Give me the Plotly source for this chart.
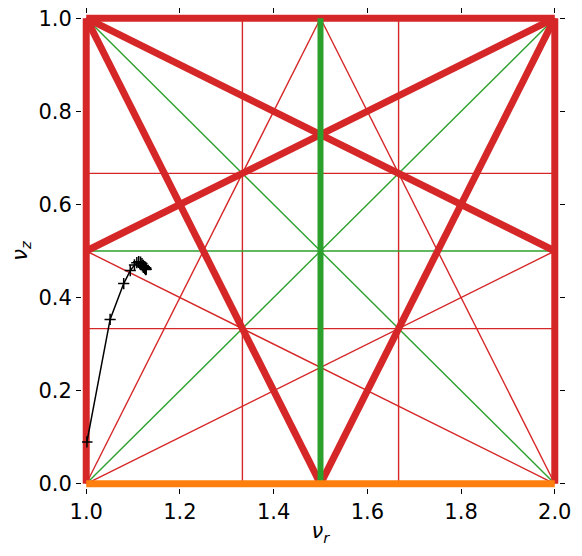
import plotly.graph_objects as go

# Resonance line segments (nu_r, nu_z endpoints)
thin_red_x = [[4/3, 4/3], [5/3, 5/3], [1.0, 2.0], [1.0, 2.0], [1.0, 1.5], [2.0, 1.5], [1.0, 2.0], [1.0, 2.0]]
thin_red_y = [[0.0, 1.0], [0.0, 1.0], [1/3, 1/3], [2/3, 2/3], [0.0, 1.0], [0.0, 1.0], [0.0, 0.5], [0.5, 0.0]]

thin_green_x = [[1.0, 2.0], [1.0, 2.0], [1.0, 2.0]]
thin_green_y = [[0.0, 1.0], [1.0, 0.0], [0.5, 0.5]]

thick_red_x = [[1.0, 1.0], [2.0, 2.0], [1.0, 2.0], [1.0, 1.5], [2.0, 1.5], [1.0, 2.0], [1.0, 2.0]]
thick_red_y = [[0.0, 1.0], [0.0, 1.0], [1.0, 1.0], [1.0, 0.0], [1.0, 0.0], [1.0, 0.5], [0.5, 1.0]]

thick_green_x = [[1.5, 1.5]]
thick_green_y = [[0.0, 1.0]]

thick_orange_x = [[1.0, 2.0]]
thick_orange_y = [[0.0, 0.0]]

# Tune track
track_nu_r = [1.0015, 1.051, 1.080, 1.094, 1.103, 1.108, 1.112, 1.116, 1.119, 1.122,
              1.124, 1.126, 1.127, 1.125, 1.122, 1.120, 1.123, 1.126, 1.128, 1.127]
track_nu_z = [0.090, 0.353, 0.430, 0.458, 0.470, 0.475, 0.477, 0.476, 0.473, 0.469,
              0.466, 0.463, 0.460, 0.462, 0.465, 0.468, 0.466, 0.463, 0.461, 0.464]

x_ticks = [1.0, 1.2, 1.4, 1.6, 1.8, 2.0]
y_ticks = [0.0, 0.2, 0.4, 0.6, 0.8, 1.0]

RED = "#d62728"
GREEN = "#2ca02c"
ORANGE = "#ff7f0e"


def flat(segs):
    out = []
    for s in segs:
        out.extend(s)
        out.append(None)
    return out


fig = go.Figure()

def add_lines(xs, ys, color, width):
    fig.add_trace(go.Scatter(x=flat(xs), y=flat(ys), mode="lines",
                             line=dict(color=color, width=width),
                             showlegend=False, hoverinfo="skip"))

add_lines(thin_red_x, thin_red_y, RED, 1.4)
add_lines(thin_green_x, thin_green_y, GREEN, 1.4)
add_lines(thick_red_x, thick_red_y, RED, 7)
add_lines(thick_green_x, thick_green_y, GREEN, 6)
add_lines(thick_orange_x, thick_orange_y, ORANGE, 7)

fig.add_trace(go.Scatter(x=track_nu_r, y=track_nu_z, mode="lines+markers",
                         line=dict(color="black", width=1.5),
                         marker=dict(symbol="cross-thin", size=8,
                                     line=dict(color="black", width=1.5)),
                         showlegend=False))

FONT = "DejaVu Sans"
fig.update_layout(
    width=566, height=540,
    margin=dict(l=74, r=15, t=6, b=60),
    paper_bgcolor="white", plot_bgcolor="white",
    font=dict(family=FONT, size=21, color="black"),
)
fig.update_xaxes(range=[0.991, 2.009], tickvals=x_ticks, ticktext=[f"{v:.1f}" for v in x_ticks],
                 ticks="outside", ticklen=5, tickwidth=1, tickcolor="black",
                 mirror="ticks", showline=False, showgrid=False, zeroline=False,
                 automargin=False, tickfont=dict(size=21), ticklabeloverflow="allow",
                 title=dict(text="<i>ν</i><sub><i>r</i></sub>", standoff=0, font=dict(size=21)))
fig.update_yaxes(range=[-0.009, 1.009], tickvals=y_ticks, ticktext=[f"{v:.1f}" for v in y_ticks],
                 ticks="outside", ticklen=5, tickwidth=1, tickcolor="black",
                 mirror="ticks", showline=False, showgrid=False, zeroline=False,
                 automargin=False, tickfont=dict(size=21), ticklabeloverflow="allow",
                 title=dict(text="<i>ν</i><sub><i>z</i></sub>", standoff=5, font=dict(size=21)))

fig.write_html("out.html")
